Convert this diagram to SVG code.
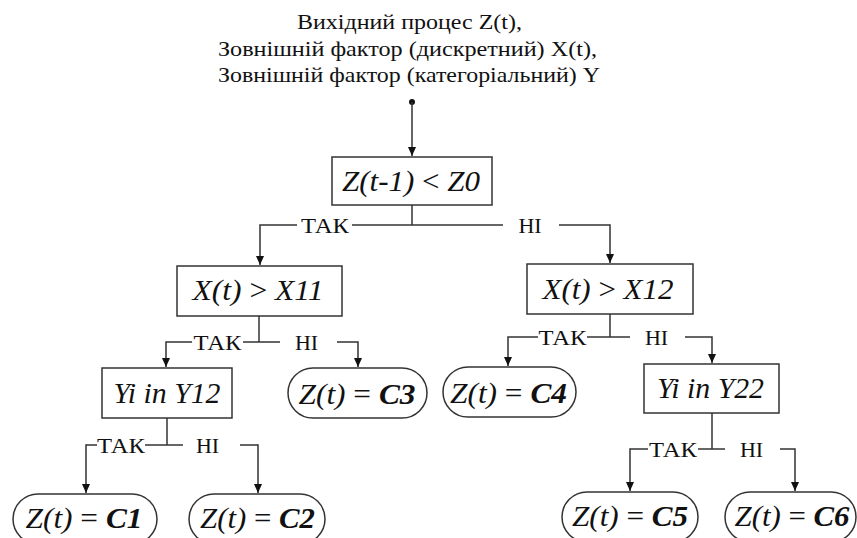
<svg xmlns="http://www.w3.org/2000/svg" width="857" height="538" viewBox="0 0 857 538">
<style>
text{font-family:'Liberation Serif','Times New Roman',serif;fill:#111;text-anchor:middle}
.title{font-size:22px}
.lbl{font-size:22px}
.node{font-size:29px;font-style:italic}
.box{fill:#fff;stroke:#333;stroke-width:1.5}
.leaf{fill:#fff;stroke:#333;stroke-width:1.5}
.c{fill:none;stroke:#333;stroke-width:1.5}
.n{font-style:normal}
.b{font-weight:bold}
</style>
<defs>
<marker id="arr" markerWidth="10" markerHeight="10" refX="9" refY="5" orient="auto" markerUnits="userSpaceOnUse">
<path d="M0,1 L9,5 L0,9 Z" fill="#111"/>
</marker>
</defs>
<g id="title">
<text class="title" x="409.5" y="29" textLength="225" lengthAdjust="spacingAndGlyphs">Вихідний процес Z(t),</text>
<text class="title" x="407.5" y="56" textLength="379" lengthAdjust="spacingAndGlyphs">Зовнішній фактор (дискретний) X(t),</text>
<text class="title" x="409" y="82" textLength="382" lengthAdjust="spacingAndGlyphs">Зовнішній фактор (категоріальний) Y</text>
</g>
<g id="connectors">
<circle cx="412" cy="102" r="3" fill="#111"/>
<path class="c" d="M412,102 V156" marker-end="url(#arr)"/>
<path class="c" d="M412,205 V225"/>
<path class="c" d="M297,225 H260 V265" marker-end="url(#arr)"/>
<path class="c" d="M352,225 H503"/>
<path class="c" d="M559,225 H610 V263" marker-end="url(#arr)"/>
<path class="c" d="M259,316 V342"/>
<path class="c" d="M192,342 H166 V367" marker-end="url(#arr)"/>
<path class="c" d="M243,342 H280"/>
<path class="c" d="M337,342 H358 V367" marker-end="url(#arr)"/>
<path class="c" d="M610,314 V337"/>
<path class="c" d="M538,337 H508 V366" marker-end="url(#arr)"/>
<path class="c" d="M587,337 H630"/>
<path class="c" d="M685,337 H712 V363" marker-end="url(#arr)"/>
<path class="c" d="M167,418 V445"/>
<path class="c" d="M97,445 H86 V493" marker-end="url(#arr)"/>
<path class="c" d="M145,445 H183"/>
<path class="c" d="M240,445 H258 V493" marker-end="url(#arr)"/>
<path class="c" d="M712,413 V449"/>
<path class="c" d="M648,449 H630 V491" marker-end="url(#arr)"/>
<path class="c" d="M698,449 H725"/>
<path class="c" d="M780,449 H795 V491" marker-end="url(#arr)"/>
<text class="lbl" x="325" y="233" textLength="48" lengthAdjust="spacingAndGlyphs">ТАК</text>
<text class="lbl" x="530" y="233">НІ</text>
<text class="lbl" x="217.5" y="350" textLength="48" lengthAdjust="spacingAndGlyphs">ТАК</text>
<text class="lbl" x="306.5" y="350">НІ</text>
<text class="lbl" x="562.5" y="345" textLength="48" lengthAdjust="spacingAndGlyphs">ТАК</text>
<text class="lbl" x="656.5" y="345">НІ</text>
<text class="lbl" x="121" y="453" textLength="48" lengthAdjust="spacingAndGlyphs">ТАК</text>
<text class="lbl" x="207.5" y="453">НІ</text>
<text class="lbl" x="673" y="457" textLength="48" lengthAdjust="spacingAndGlyphs">ТАК</text>
<text class="lbl" x="751.5" y="457">НІ</text>
</g>
<g id="n1">
<rect class="box" x="332" y="157" width="160" height="48"/>
<text class="node" x="411" y="191" textLength="138" lengthAdjust="spacingAndGlyphs">Z(t-1) <tspan class="n">&lt;</tspan> Z0</text>
</g>
<g id="n2">
<rect class="box" x="177" y="266" width="165" height="50"/>
<text class="node" x="258" y="300" textLength="131" lengthAdjust="spacingAndGlyphs">X(t) <tspan class="n">&gt;</tspan> X11</text>
</g>
<g id="n3">
<rect class="box" x="527" y="264" width="166" height="50"/>
<text class="node" x="608" y="299" textLength="131" lengthAdjust="spacingAndGlyphs">X(t) <tspan class="n">&gt;</tspan> X12</text>
</g>
<g id="n4">
<rect class="box" x="102" y="368" width="130" height="50"/>
<text class="node" x="167" y="403" textLength="107" lengthAdjust="spacingAndGlyphs">Yi in Y12</text>
</g>
<g id="n5">
<rect class="leaf" x="288" y="368" width="139" height="50" rx="25" ry="25"/>
<text class="node" x="357" y="404" textLength="117" lengthAdjust="spacingAndGlyphs">Z(t) <tspan class="n">=</tspan> <tspan class="b">C3</tspan></text>
</g>
<g id="n6">
<rect class="leaf" x="443" y="367" width="133" height="50" rx="25" ry="25"/>
<text class="node" x="508.5" y="403" textLength="117" lengthAdjust="spacingAndGlyphs">Z(t) <tspan class="n">=</tspan> <tspan class="b">C4</tspan></text>
</g>
<g id="n7">
<rect class="box" x="644" y="364" width="135" height="49"/>
<text class="node" x="710.5" y="398" textLength="107" lengthAdjust="spacingAndGlyphs">Yi in Y22</text>
</g>
<g id="n8">
<rect class="leaf" x="13" y="494" width="144" height="50" rx="25" ry="25"/>
<text class="node" x="84" y="528" textLength="117" lengthAdjust="spacingAndGlyphs">Z(t) <tspan class="n">=</tspan> <tspan class="b">C1</tspan></text>
</g>
<g id="n9">
<rect class="leaf" x="189" y="494" width="136" height="50" rx="25" ry="25"/>
<text class="node" x="257.5" y="528" textLength="115" lengthAdjust="spacingAndGlyphs">Z(t) <tspan class="n">=</tspan> <tspan class="b">C2</tspan></text>
</g>
<g id="n10">
<rect class="leaf" x="562" y="492" width="136" height="50" rx="25" ry="25"/>
<text class="node" x="630" y="526" textLength="116" lengthAdjust="spacingAndGlyphs">Z(t) <tspan class="n">=</tspan> <tspan class="b">C5</tspan></text>
</g>
<g id="n11">
<rect class="leaf" x="725" y="492" width="131" height="50" rx="25" ry="25"/>
<text class="node" x="792" y="526" textLength="115" lengthAdjust="spacingAndGlyphs">Z(t) <tspan class="n">=</tspan> <tspan class="b">C6</tspan></text>
</g>
</svg>
